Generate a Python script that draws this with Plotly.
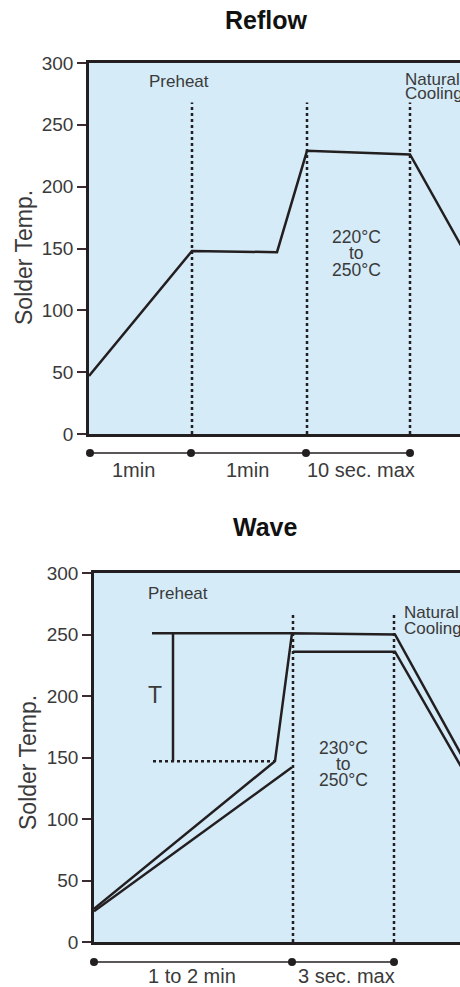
import plotly.graph_objects as go

W, H = 460, 987

# ---------------- Reflow (top) data ----------------
reflow_time = [0, 103, 188, 218, 321, 400]
reflow_temp = [47, 148, 147, 229, 226, 112]
reflow_phase_x = [103, 218, 321]
phase_top_temp = 268
reflow_marks = [1, 102, 217, 321]
reflow_span_labels = ["1min", "1min", "10 sec. max"]
reflow_span_x = [44, 158, 272]
reflow_xmax = 371

# ---------------- Wave (bottom) data ----------------
wave_upper_time = [0, 181, 198, 301, 400]
wave_upper_temp = [27, 147, 251, 250, 104]
wave_lower_time_a = [0, 198]
wave_lower_temp_a = [25, 142]
wave_lower_time_b = [199, 301, 400]
wave_lower_temp_b = [236, 236, 96]
t_top_time = [58, 198]
t_top_temp = [251, 251]
t_vert_time = [79, 79]
t_vert_temp = [251, 147]
t_dot_time = [59, 181]
t_dot_temp = [147, 147]
wave_phase_x = [199, 300]
wave_marks = [0, 198, 300]
wave_span_labels = ["1 to 2 min", "3 sec. max"]
wave_span_x = [98, 252]
wave_xmax = 366

y_ticks = [0, 50, 100, 150, 200, 250, 300]

INK = "#231f20"
TXT = "#3a3a3a"
BG = "#d5ebf8"
FONT = "Liberation Sans, Arial, sans-serif"


def px(p):
    return p / W


def py(p):
    return 1 - p / H


fig = go.Figure()

line_style = dict(color=INK, width=2.5)
dot_style = dict(color=INK, width=2.5, dash="dot")


def vlines(xs, top):
    x, y = [], []
    for v in xs:
        x += [v, v, None]
        y += [0, top, None]
    return x, y


# Reflow traces
fig.add_trace(go.Scatter(x=reflow_time, y=reflow_temp, mode="lines", line=line_style,
                         xaxis="x", yaxis="y", hoverinfo="skip"))
vx, vy = vlines(reflow_phase_x, phase_top_temp)
fig.add_trace(go.Scatter(x=vx, y=vy, mode="lines", line=dot_style, xaxis="x", yaxis="y",
                         hoverinfo="skip"))
fig.add_trace(go.Scatter(x=reflow_marks, y=[0] * len(reflow_marks), mode="lines+markers",
                         line=dict(color=INK, width=1.5), marker=dict(size=8, color=INK),
                         cliponaxis=False, xaxis="x3", yaxis="y3", hoverinfo="skip"))

# Wave traces
for xs, ys in [(wave_upper_time, wave_upper_temp), (wave_lower_time_a, wave_lower_temp_a),
               (wave_lower_time_b, wave_lower_temp_b), (t_top_time, t_top_temp),
               (t_vert_time, t_vert_temp)]:
    fig.add_trace(go.Scatter(x=xs, y=ys, mode="lines", line=line_style,
                             xaxis="x2", yaxis="y2", hoverinfo="skip"))
fig.add_trace(go.Scatter(x=t_dot_time, y=t_dot_temp, mode="lines", line=dot_style,
                         xaxis="x2", yaxis="y2", hoverinfo="skip"))
vx, vy = vlines(wave_phase_x, phase_top_temp)
fig.add_trace(go.Scatter(x=vx, y=vy, mode="lines", line=dot_style, xaxis="x2", yaxis="y2",
                         hoverinfo="skip"))
fig.add_trace(go.Scatter(x=wave_marks, y=[0] * len(wave_marks), mode="lines+markers",
                         line=dict(color=INK, width=1.5), marker=dict(size=8, color=INK),
                         cliponaxis=False, xaxis="x4", yaxis="y4", hoverinfo="skip"))

xa = dict(showline=True, linecolor=INK, linewidth=2.5, mirror=True, showticklabels=False,
          ticks="", showgrid=False, zeroline=False, fixedrange=True, automargin=False)
ya = dict(range=[0, 300], tickvals=y_ticks, ticks="outside", ticklen=9, tickwidth=1.5,
          tickcolor="#3d2b33", showline=True, linecolor=INK, linewidth=2.5, mirror=False,
          showgrid=False, zeroline=False, tickfont=dict(family=FONT, size=19, color=TXT),
          fixedrange=True, automargin=False)
hidden = dict(visible=False, showgrid=False, zeroline=False, fixedrange=True,
              automargin=False)

annotations = []


def ann(text, x, y, xref, yref, size=17, xanchor="center", bold=False, angle=0):
    annotations.append(dict(text=f"<b>{text}</b>" if bold else text, x=x, y=y, xref=xref,
                            yref=yref, showarrow=False, xanchor=xanchor, yanchor="middle",
                            textangle=angle,
                            font=dict(family=FONT, size=size,
                                      color="#111111" if bold else TXT)))


# titles
ann("Reflow", px(266), py(20), "paper", "paper", size=25, bold=True)
ann("Wave", px(265), py(527), "paper", "paper", size=25, bold=True)
ann("Solder Temp.", px(24), py(258), "paper", "paper", size=23, angle=-90)
ann("Solder Temp.", px(28), py(763), "paper", "paper", size=23, angle=-90)

# reflow labels
ann("Preheat", 90, 285, "x", "y")
ann("Natural", 314, 287, "x", "y", xanchor="left")
ann("Cooling", 314, 275, "x", "y", xanchor="left")
for txt, t in zip(["220°C", "to", "250°C"], [159, 146, 133]):
    ann(txt, 267, t, "x", "y", size=17.5)
for txt, x in zip(reflow_span_labels, reflow_span_x):
    ann(txt, x, -1, "x3", "y3", size=20)

# wave labels
ann("Preheat", 84, 283, "x2", "y2")
ann("T", 61, 201, "x2", "y2", size=23)
ann("Natural", 308, 268, "x2", "y2", xanchor="left")
ann("Cooling", 308, 255, "x2", "y2", xanchor="left")
for txt, t in zip(["230°C", "to", "250°C"], [158, 145, 132]):
    ann(txt, 249, t, "x2", "y2", size=17.5)
for txt, x in zip(wave_span_labels, wave_span_x):
    ann(txt, x, -1, "x4", "y4", size=20)

shapes = [
    dict(type="rect", xref="x domain", yref="y domain", x0=0, x1=1, y0=0, y1=1,
         fillcolor=BG, line=dict(width=0), layer="below"),
    dict(type="rect", xref="x2 domain", yref="y2 domain", x0=0, x1=1, y0=0, y1=1,
         fillcolor=BG, line=dict(width=0), layer="below"),
]

fig.update_layout(
    width=W, height=H, margin=dict(l=0, r=0, t=0, b=0, pad=0, autoexpand=False),
    paper_bgcolor="white", plot_bgcolor="white", showlegend=False,
    xaxis=dict(xa, domain=[px(89), 1], range=[0, reflow_xmax], anchor="y"),
    yaxis=dict(ya, domain=[py(434), py(63)], anchor="x"),
    xaxis2=dict(xa, domain=[px(94), 1], range=[0, wave_xmax], anchor="y2"),
    yaxis2=dict(ya, domain=[py(942), py(573)], anchor="x2"),
    xaxis3=dict(hidden, domain=[px(89), 1], range=[0, reflow_xmax], anchor="y3"),
    yaxis3=dict(hidden, domain=[py(485), py(440)], range=[-1.88, 0.765], anchor="x3"),
    xaxis4=dict(hidden, domain=[px(94), 1], range=[0, wave_xmax], anchor="y4"),
    yaxis4=dict(hidden, domain=[py(987), py(950)], range=[-1.786, 0.857], anchor="x4"),
    annotations=annotations, shapes=shapes,
)

# pin the figure to the top-left corner of the page (no body margin, no scrollbars)
post = ("document.documentElement.style.overflow='hidden';"
        "document.body.style.margin='0';document.body.style.overflow='hidden';"
        "var gd=document.getElementById('{plot_id}');"
        "gd.style.position='fixed';gd.style.left='0px';gd.style.top='0px';")

fig.write_html("out.html", post_script=post, config={"displayModeBar": False})
